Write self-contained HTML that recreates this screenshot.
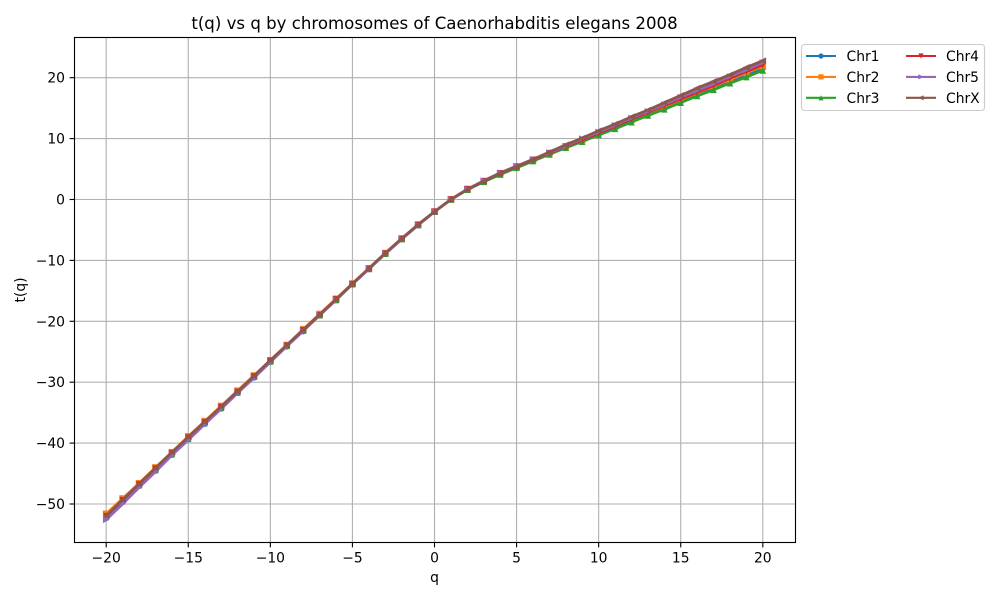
<!DOCTYPE html>
<html>
<head>
<meta charset="utf-8">
<title>t(q) vs q by chromosomes of Caenorhabditis elegans 2008</title>
<style>
html,body{margin:0;padding:0;background:#fff;width:1000px;height:600px;overflow:hidden}
svg{display:block;font-family:"DejaVu Sans","Liberation Sans",sans-serif}
text{fill:#000}
</style>
</head>
<body>
<svg id="chart" width="1000" height="600" viewBox="0 0 1000 600" xmlns="http://www.w3.org/2000/svg">
<rect width="1000" height="600" fill="#fff"/>
<text x="434.5" y="29" font-size="16.6" text-anchor="middle">t(q) vs q by chromosomes of Caenorhabditis elegans 2008</text>
<text x="434.5" y="582" font-size="13.89" text-anchor="middle">q</text>
<text transform="translate(25,290) rotate(-90)" font-size="13.89" text-anchor="middle">t(q)</text>
<g id="grid"></g>
<g id="series"></g>
<rect x="74.5" y="37.5" width="721" height="505" fill="none" stroke="#000" stroke-width="1.11"/>
<g id="ticks"></g>
<g id="legend">
<rect x="801.5" y="44.5" width="183" height="66" rx="3" fill="#fff" fill-opacity="0.8" stroke="#ccc" stroke-width="1.11"/>
</g>
</svg>
<script>
const qValues = [-20,-19,-18,-17,-16,-15,-14,-13,-12,-11,-10,-9,-8,-7,-6,-5,-4,-3,-2,-1,0,1,2,3,4,5,6,7,8,9,10,11,12,13,14,15,16,17,18,19,20];
const chr1 = [-52.0,-49.6,-47.0,-44.5,-41.9,-39.3,-36.8,-34.3,-31.7,-29.2,-26.6,-24.1,-21.6,-19.0,-16.5,-13.9,-11.4,-8.9,-6.5,-4.2,-2.0,0.0,1.7,3.0,4.2,5.3,6.4,7.5,8.6,9.7,10.8,11.8,12.9,14.0,15.0,16.1,17.2,18.3,19.4,20.5,21.6];
const chr2 = [-51.6,-49.1,-46.6,-44.0,-41.5,-38.9,-36.4,-33.9,-31.4,-28.9,-26.4,-23.9,-21.3,-18.8,-16.3,-13.8,-11.3,-8.8,-6.4,-4.1,-2.0,0.0,1.7,3.0,4.3,5.4,6.5,7.6,8.7,9.8,10.9,12.0,13.1,14.2,15.3,16.4,17.5,18.6,19.7,20.8,21.9];
const chr3 = [-52.0,-49.5,-46.9,-44.4,-41.8,-39.3,-36.7,-34.2,-31.7,-29.1,-26.6,-24.0,-21.5,-19.0,-16.5,-13.9,-11.4,-8.9,-6.5,-4.2,-2.0,0.0,1.6,2.9,4.1,5.2,6.3,7.4,8.5,9.5,10.6,11.6,12.7,13.8,14.8,15.9,17.0,18.0,19.1,20.1,21.2];
const chr4 = [-52.0,-49.4,-46.8,-44.2,-41.7,-39.1,-36.6,-34.1,-31.6,-29.1,-26.5,-24.0,-21.5,-19.0,-16.4,-13.9,-11.4,-8.9,-6.5,-4.2,-2.0,0.0,1.7,3.0,4.3,5.4,6.5,7.6,8.7,9.8,10.9,12.0,13.2,14.3,15.4,16.5,17.6,18.7,19.9,21.0,22.1];
const chr5 = [-52.6,-50.0,-47.3,-44.7,-42.0,-39.5,-36.9,-34.4,-31.8,-29.3,-26.7,-24.1,-21.6,-19.0,-16.5,-13.9,-11.4,-8.9,-6.5,-4.2,-2.0,0.0,1.7,3.1,4.4,5.5,6.6,7.7,8.8,10.0,11.1,12.2,13.4,14.5,15.6,16.8,17.9,19.0,20.2,21.3,22.5];
const chrX = [-51.9,-49.3,-46.7,-44.1,-41.5,-39.0,-36.5,-34.0,-31.5,-29.0,-26.4,-23.9,-21.4,-18.9,-16.4,-13.8,-11.3,-8.8,-6.4,-4.1,-2.0,0.0,1.6,3.0,4.3,5.4,6.6,7.8,9.0,10.1,11.3,12.4,13.6,14.7,15.9,17.1,18.3,19.4,20.5,21.7,22.8];
const seriesNames = ['Chr1','Chr2','Chr3','Chr4','Chr5','ChrX'];
const xTickValues = [-20,-15,-10,-5,0,5,10,15,20];
const yTickValues = [-50,-40,-30,-20,-10,0,10,20];

const allSeries = [chr1, chr2, chr3, chr4, chr5, chrX];
const colors = ['#1f77b4','#ff7f0e','#2ca02c','#d62728','#9467bd','#8c564b'];
const markerKinds = ['circle','square','up','down','right','left'];
const NS = 'http://www.w3.org/2000/svg';

function xScale(v){ return 434.5 + v * 16.415; }
function yScale(v){ return 199.5 - v * 6.09; }
function label(v){ return (v < 0 ? '\u2212' + Math.abs(v) : String(v)); }
function make(tag, attrs, parent){
  const el = document.createElementNS(NS, tag);
  for (const k in attrs) el.setAttribute(k, attrs[k]);
  parent.appendChild(el);
  return el;
}
function addMarker(parent, kind, cx, cy, color, r){
  if (kind === 'circle') return make('circle', {cx: cx, cy: cy, r: r, fill: color}, parent);
  let pts;
  if (kind === 'square') pts = [[-r,-r],[r,-r],[r,r],[-r,r]];
  if (kind === 'up') pts = [[0,-r],[r,r],[-r,r]];
  if (kind === 'down') pts = [[0,r],[r,-r],[-r,-r]];
  if (kind === 'right') pts = [[r,0],[-r,r],[-r,-r]];
  if (kind === 'left') pts = [[-r,0],[r,r],[r,-r]];
  const s = pts.map(p => (cx + p[0]) + ',' + (cy + p[1])).join(' ');
  return make('polygon', {points: s, fill: color}, parent);
}

const gridG = document.getElementById('grid');
const ticksG = document.getElementById('ticks');
xTickValues.forEach(function(v){
  const x = xScale(v);
  const g = make('line', {x1: x, x2: x, y1: 37.5, y2: 542.5, stroke: '#b0b0b0', 'stroke-width': 1.11}, gridG);
  
  
  const t = make('line', {x1: x, x2: x, y1: 542.5, y2: 547.4, stroke: '#000', 'stroke-width': 1.11}, ticksG);
  
  
  const l = make('text', {x: x, y: 562.5, 'font-size': 13.89, 'text-anchor': 'middle'}, ticksG);
  
  
  l.textContent = label(v);
});
yTickValues.forEach(function(v){
  const y = yScale(v);
  const g = make('line', {x1: 74.5, x2: 795.5, y1: y, y2: y, stroke: '#b0b0b0', 'stroke-width': 1.11}, gridG);
  
  
  const t = make('line', {x1: 69.6, x2: 74.5, y1: y, y2: y, stroke: '#000', 'stroke-width': 1.11}, ticksG);
  
  
  const l = make('text', {x: 65, y: y + 5, 'font-size': 13.89, 'text-anchor': 'end'}, ticksG);
  
  
  l.textContent = label(v);
});

const seriesG = document.getElementById('series');
allSeries.forEach(function(vals, i){
  const g = make('g', {}, seriesG);
  
  
  const d = vals.map((v, j) => xScale(qValues[j]).toFixed(2) + ',' + yScale(v).toFixed(2)).join(' ');
  const line = make('polyline', {points: d, fill: 'none', stroke: colors[i], 'stroke-width': 2.7, 'stroke-linejoin': 'round', 'stroke-linecap': 'butt'}, g);
  
  
  vals.forEach(function(v, j){
    const m = addMarker(g, markerKinds[i], xScale(qValues[j]), yScale(v), colors[i], 3.3);
    
    
  });
});

const legendG = document.getElementById('legend');
seriesNames.forEach(function(name, i){
  const col = i < 3 ? 0 : 1;
  const row = i % 3;
  const x0 = col === 0 ? 806 : 906;
  const y0 = 56 + row * 20.9;
  const g = make('g', {}, legendG);
  
  
  const line = make('line', {x1: x0, x2: x0 + 30, y1: y0, y2: y0, stroke: colors[i], 'stroke-width': 2.08}, g);
  
  
  const m = addMarker(g, markerKinds[i], x0 + 15, y0, colors[i], 2.6);
  
  
  const t = make('text', {x: col === 0 ? 846.5 : 946, y: y0 + 5, 'font-size': 13.89}, g);
  
  
  t.textContent = name;
});
</script>
</body>
</html>
